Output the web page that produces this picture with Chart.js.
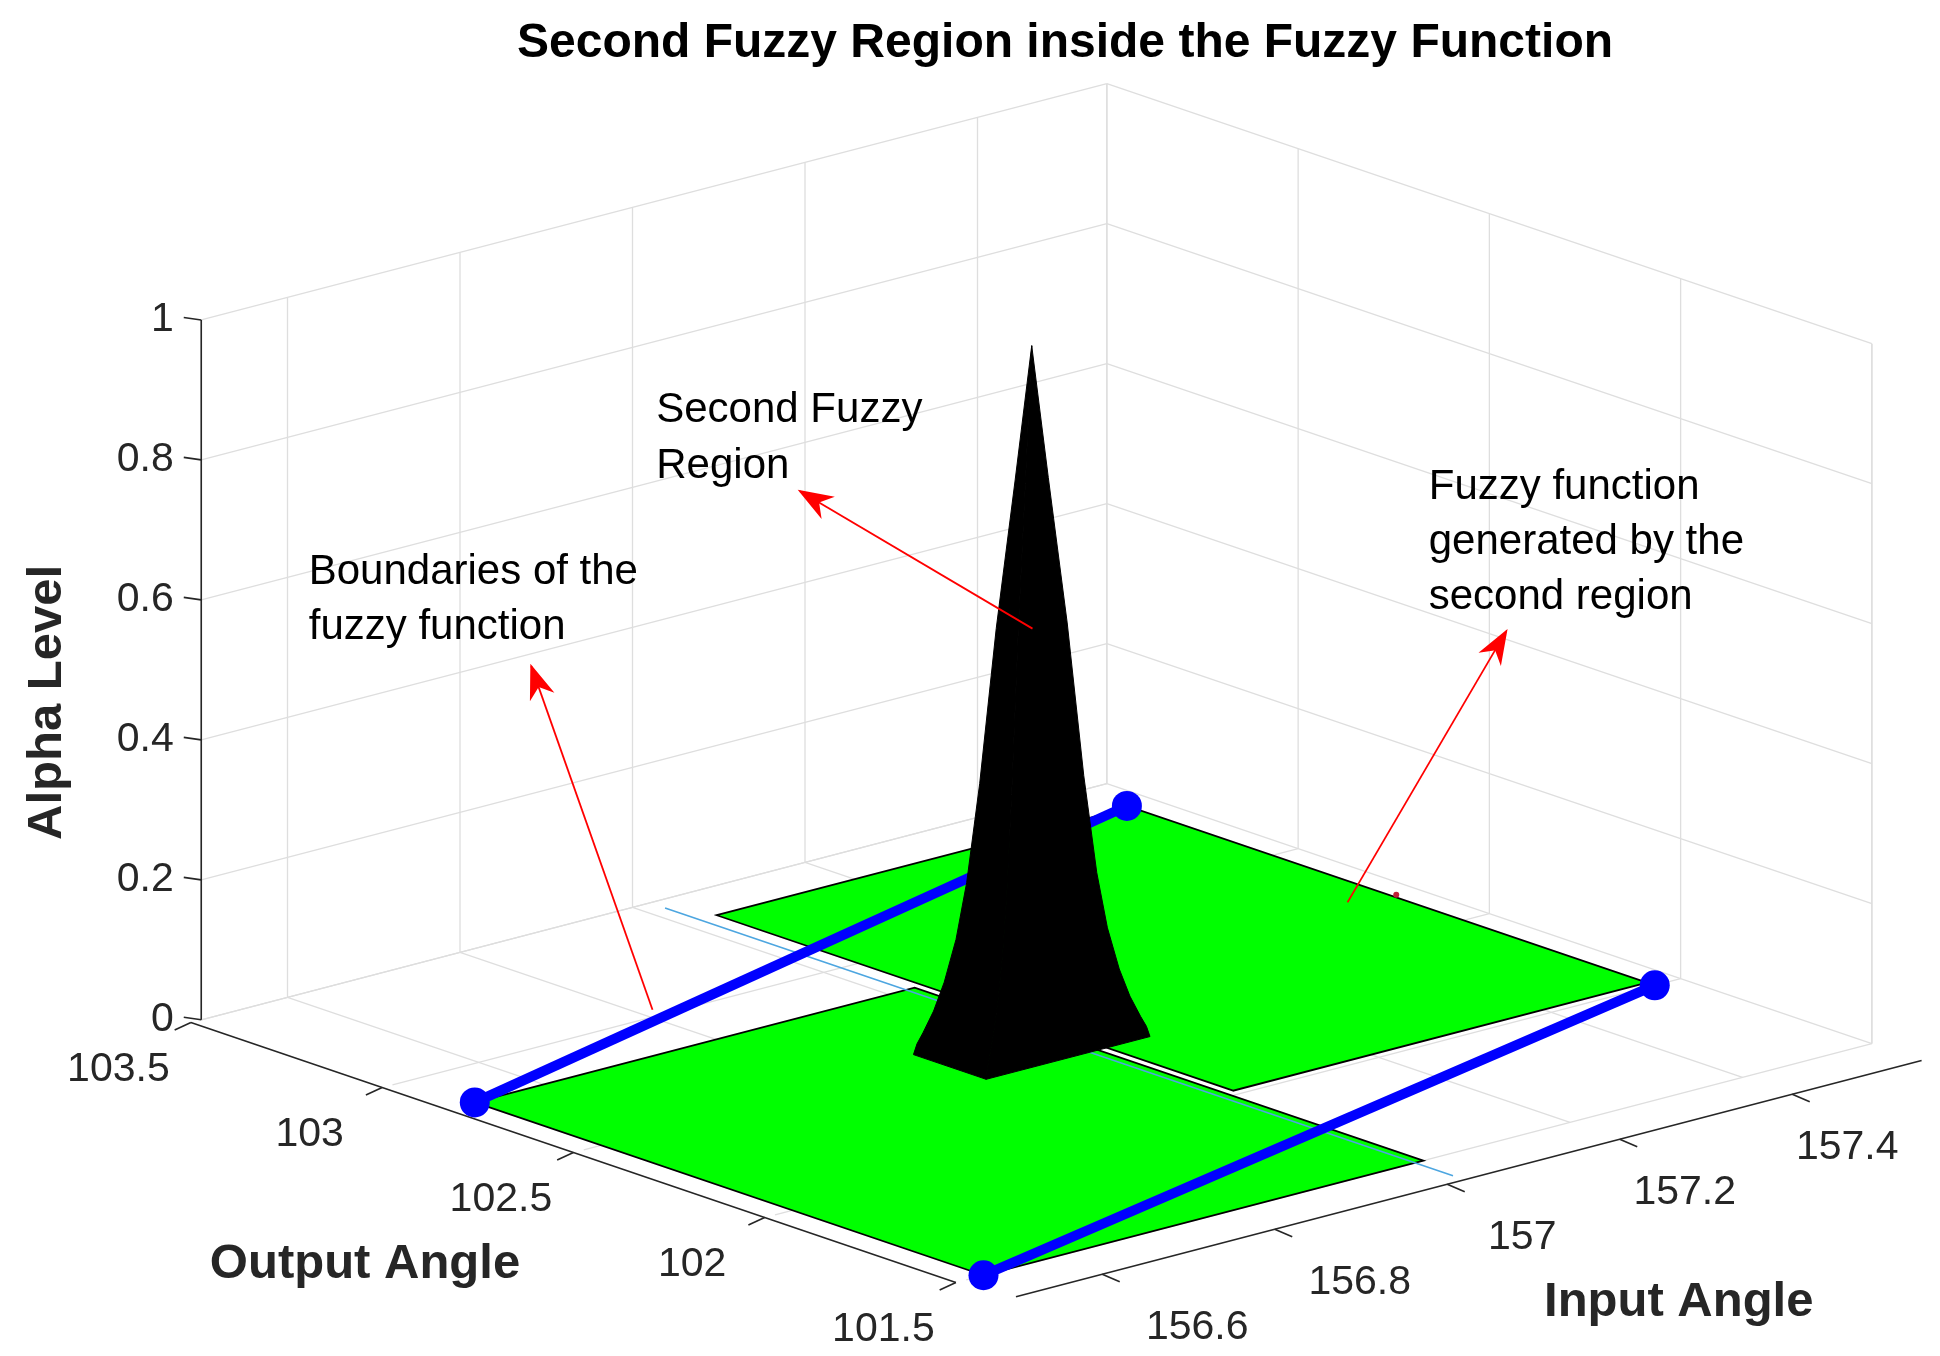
<!DOCTYPE html>
<html><head><meta charset="utf-8">
<script src="https://cdn.jsdelivr.net/npm/chart.js@4.4.1/dist/chart.umd.min.js"></script>
<style>html,body{margin:0;padding:0;background:#fff;overflow:hidden}#wrap{width:1940px;height:1356px}</style>
</head><body><div id="wrap"><canvas id="c"></canvas></div>
<script>
// ---- data ----
const titleText = 'Second Fuzzy Region inside the Fuzzy Function';
const outTicks = [101.5, 102, 102.5, 103, 103.5];
const outTickLabels = ['101.5', '102', '102.5', '103', '103.5'];
const inTicks = [156.6, 156.8, 157, 157.2, 157.4];
const inTickLabels = ['156.6', '156.8', '157', '157.2', '157.4'];
const zTicks = [0, 0.2, 0.4, 0.6, 0.8, 1];
const zTickLabels = ['0', '0.2', '0.4', '0.6', '0.8', '1'];
const outRange = [101.5, 103.5];
const inRange = [156.5, 157.55];
const frontPlaneOut = [101.5, 102.83];
const frontPlaneIn = [156.52, 157.03];
const backPlaneOut = [102.02, 103.37];
const backPlaneIn = [157.04, 157.52];
const dividerOut = [101.4, 103.46];
const dividerIn = [157.02, 157.02];
const boundaryAOut = [102.83, 103.38];
const boundaryAIn = [156.52, 157.52];
const boundaryBOut = [101.5, 102.0];
const boundaryBIn = [156.52, 157.52];
const spikeCenterOut = 102.445;
const spikeCenterIn = 156.995;
const spikeHalf = 0.095;
const spikeZ = [0, 0.015, 0.03, 0.06, 0.1, 0.16, 0.24, 0.38, 0.6, 0.81, 1.0];
const spikeK = [1, 0.97, 0.92, 0.83, 0.74, 0.64, 0.55, 0.44, 0.30, 0.14, 0];

// ---- projection (display units 1552 x 1085) ----
const W = 1552, H = 1085;
function P(o, i, z) {
  return {x: 773 - 306 * (o - 101.5) + 690 * (i - 156.5),
          y: 1024 - 104 * (o - 101.5) - 180 * (i - 156.5) - 560 * z};
}
function line3(oArr, iArr, z) { return oArr.map((o, k) => P(o, iArr[k], z)); }

const plugin = {
  id: 'scene',
  beforeDatasetsDraw(chart) {
    const {ctx, scales: {x, y}} = chart;
    const px = p => [x.getPixelForValue(p.x), y.getPixelForValue(p.y)];
    const seg = (a, b, col, w) => { ctx.beginPath(); ctx.strokeStyle = col; ctx.lineWidth = w;
      ctx.moveTo(...px(a)); ctx.lineTo(...px(b)); ctx.stroke(); };
    const poly = (pts, fill, stroke, w) => { ctx.beginPath(); pts.forEach((p, k) => k ? ctx.lineTo(...px(p)) : ctx.moveTo(...px(p)));
      ctx.closePath(); if (fill) { ctx.fillStyle = fill; ctx.fill(); } if (stroke) { ctx.strokeStyle = stroke; ctx.lineWidth = w; ctx.stroke(); } };
    const g = '#dedede';
    const [o0, o1] = outRange, [i0, i1] = inRange;
    zTicks.forEach(z => { seg(P(o1, i0, z), P(o1, i1, z), g, 1.3); seg(P(o1, i1, z), P(o0, i1, z), g, 1.3); });
    inTicks.forEach(i => { seg(P(o1, i, 0), P(o1, i, 1), g, 1.3); seg(P(o1, i, 0), P(o0, i, 0), g, 1.3); });
    outTicks.forEach(o => { seg(P(o, i1, 0), P(o, i1, 1), g, 1.3); seg(P(o, i0, 0), P(o, i1, 0), g, 1.3); });
    seg(P(o1, i1, 0), P(o1, i1, 1), g, 1.3);
    seg(P(o1, i0, 1), P(o1, i0, 0), g, 1.3);
    seg(P(o0, i1, 0), P(o0, i1, 1), g, 1.3);
    const ax = '#262626';
    seg(P(o1, i0, 0), P(o1, i0, 1), ax, 1.6);
    zTicks.forEach(z => seg(P(o1, i0, z), {x: P(o1, i0, z).x - 14, y: P(o1, i0, z).y - 2}, ax, 1.6));
    const oi = i0 - 0.012;
    seg(P(o1, oi, 0), P(o0, oi, 0), ax, 1.6);
    outTicks.forEach(o => { const a = P(o, oi, 0); seg(a, {x: a.x - 13, y: a.y + 6}, ax, 1.6); });
    const io = o0 - 0.13;
    seg(P(io, i0, 0), P(io, i1, 0), ax, 1.6);
    inTicks.forEach(i => { const a = P(io, i, 0); seg(a, {x: a.x + 14, y: a.y + 6}, ax, 1.6); });
    ctx.fillStyle = '#262626'; ctx.font = '41px "Liberation Sans", Arial, sans-serif';
    ctx.textAlign = 'right'; ctx.textBaseline = 'middle';
    zTicks.forEach((z, k) => { const a = P(o1, i0, z); ctx.fillText(zTickLabels[k], ...px({x: a.x - 22, y: a.y})); });
    ctx.textAlign = 'center';
    outTicks.forEach((o, k) => { const a = P(o, oi, 0); ctx.fillText(outTickLabels[k], ...px({x: a.x - 58, y: a.y + 38})); });
    inTicks.forEach((i, k) => { const a = P(io, i, 0); ctx.fillText(inTickLabels[k], ...px({x: a.x + 76 - 40 * (i - 156.6), y: a.y + 43})); });
    ctx.fillStyle = '#262626'; ctx.font = 'bold 49px "Liberation Sans", Arial, sans-serif';
    ctx.fillText('Output Angle', ...px({x: 292, y: 1012}));
    ctx.fillText('Input Angle', ...px({x: 1343, y: 1042}));
    ctx.save(); ctx.translate(...px({x: 38, y: 562})); ctx.rotate(-Math.PI / 2);
    ctx.fillText('Alpha Level', 0, 0); ctx.restore();
    ctx.fillStyle = '#000'; ctx.font = 'bold 48px "Liberation Sans", Arial, sans-serif';
    ctx.fillText(titleText, ...px({x: 852, y: 35}));
    const rect = (O, I) => [P(O[0], I[0], 0), P(O[1], I[0], 0), P(O[1], I[1], 0), P(O[0], I[1], 0)];
    poly(rect(backPlaneOut, backPlaneIn), '#00ff00', '#000', 1.8);
    poly(rect(frontPlaneOut, frontPlaneIn), '#00ff00', '#000', 1.8);
    const d = line3(dividerOut, dividerIn, 0);
    seg(d[0], d[1], '#4da6e0', 1.6);
  },
  afterDatasetsDraw(chart) {
    const {ctx, scales: {x, y}} = chart;
    const px = p => [x.getPixelForValue(p.x), y.getPixelForValue(p.y)];
    const curve = (so, si) => spikeZ.map((z, k) => P(spikeCenterOut + so * spikeHalf * spikeK[k], spikeCenterIn + si * spikeHalf * spikeK[k], z));
    const L = curve(1, -1), F = curve(-1, -1), R = curve(-1, 1);
    const face = (a, b) => { ctx.beginPath(); a.forEach((p, k) => k ? ctx.lineTo(...px(p)) : ctx.moveTo(...px(p)));
      b.slice().reverse().forEach(p => ctx.lineTo(...px(p))); ctx.closePath(); ctx.fillStyle = '#000'; ctx.fill(); ctx.strokeStyle = '#000'; ctx.lineWidth = 1; ctx.stroke(); };
    face(L, F); face(F, R);
    const arrow = (a, b) => {
      const [ax1, ay1] = px(a), [bx, by] = px(b);
      ctx.strokeStyle = '#ff0000'; ctx.fillStyle = '#ff0000'; ctx.lineWidth = 1.8;
      ctx.beginPath(); ctx.moveTo(ax1, ay1); ctx.lineTo(bx, by); ctx.stroke();
      const ang = Math.atan2(by - ay1, bx - ax1), len = 30, hw = 11;
      const cx = bx - len * Math.cos(ang), cy = by - len * Math.sin(ang);
      ctx.beginPath(); ctx.moveTo(bx, by);
      ctx.lineTo(cx + hw * Math.sin(ang), cy - hw * Math.cos(ang));
      ctx.lineTo(bx - 0.7 * len * Math.cos(ang), by - 0.7 * len * Math.sin(ang));
      ctx.lineTo(cx - hw * Math.sin(ang), cy + hw * Math.cos(ang));
      ctx.closePath(); ctx.fill(); ctx.stroke();
    };
    arrow({x: 826, y: 503}, {x: 640, y: 393});
    arrow({x: 522, y: 808}, {x: 425, y: 533});
    arrow({x: 1078, y: 722}, {x: 1205, y: 505});
    ctx.fillStyle = '#c0203a'; ctx.beginPath(); ctx.arc(...px({x: 1117, y: 716}), 3, 0, 7); ctx.fill();
    ctx.fillStyle = '#000'; ctx.font = '42px "Liberation Sans", Arial, sans-serif';
    ctx.textAlign = 'left'; ctx.textBaseline = 'middle';
    const txt = (lines, x0, y0, lh) => lines.forEach((s, k) => ctx.fillText(s, ...px({x: x0, y: y0 + k * lh})));
    txt(['Second Fuzzy', 'Region'], 525, 328, 45);
    txt(['Boundaries of the', 'fuzzy function'], 247, 458, 44);
    txt(['Fuzzy function', 'generated by the', 'second region'], 1143, 390, 44);
  }
};

const bA = line3(boundaryAOut, boundaryAIn, 0), bB = line3(boundaryBOut, boundaryBIn, 0);
const blueDs = pts => ({data: pts, showLine: true, borderColor: '#0000ff', backgroundColor: '#0000ff',
  borderWidth: 10, pointRadius: 15, pointHoverRadius: 15, pointBorderWidth: 0, clip: false});

new Chart(document.getElementById('c'), {
  type: 'scatter',
  data: {datasets: [blueDs(bA), blueDs(bB)]},
  options: {
    responsive: true, maintainAspectRatio: false, animation: false,
    layout: {padding: 0, autoPadding: false},
    plugins: {legend: {display: false}, tooltip: {enabled: false}, title: {display: false}},
    scales: {
      x: {type: 'linear', min: 0, max: W, display: false},
      y: {type: 'linear', min: 0, max: H, reverse: true, display: false}
    }
  },
  plugins: [plugin]
});
</script></body></html>
